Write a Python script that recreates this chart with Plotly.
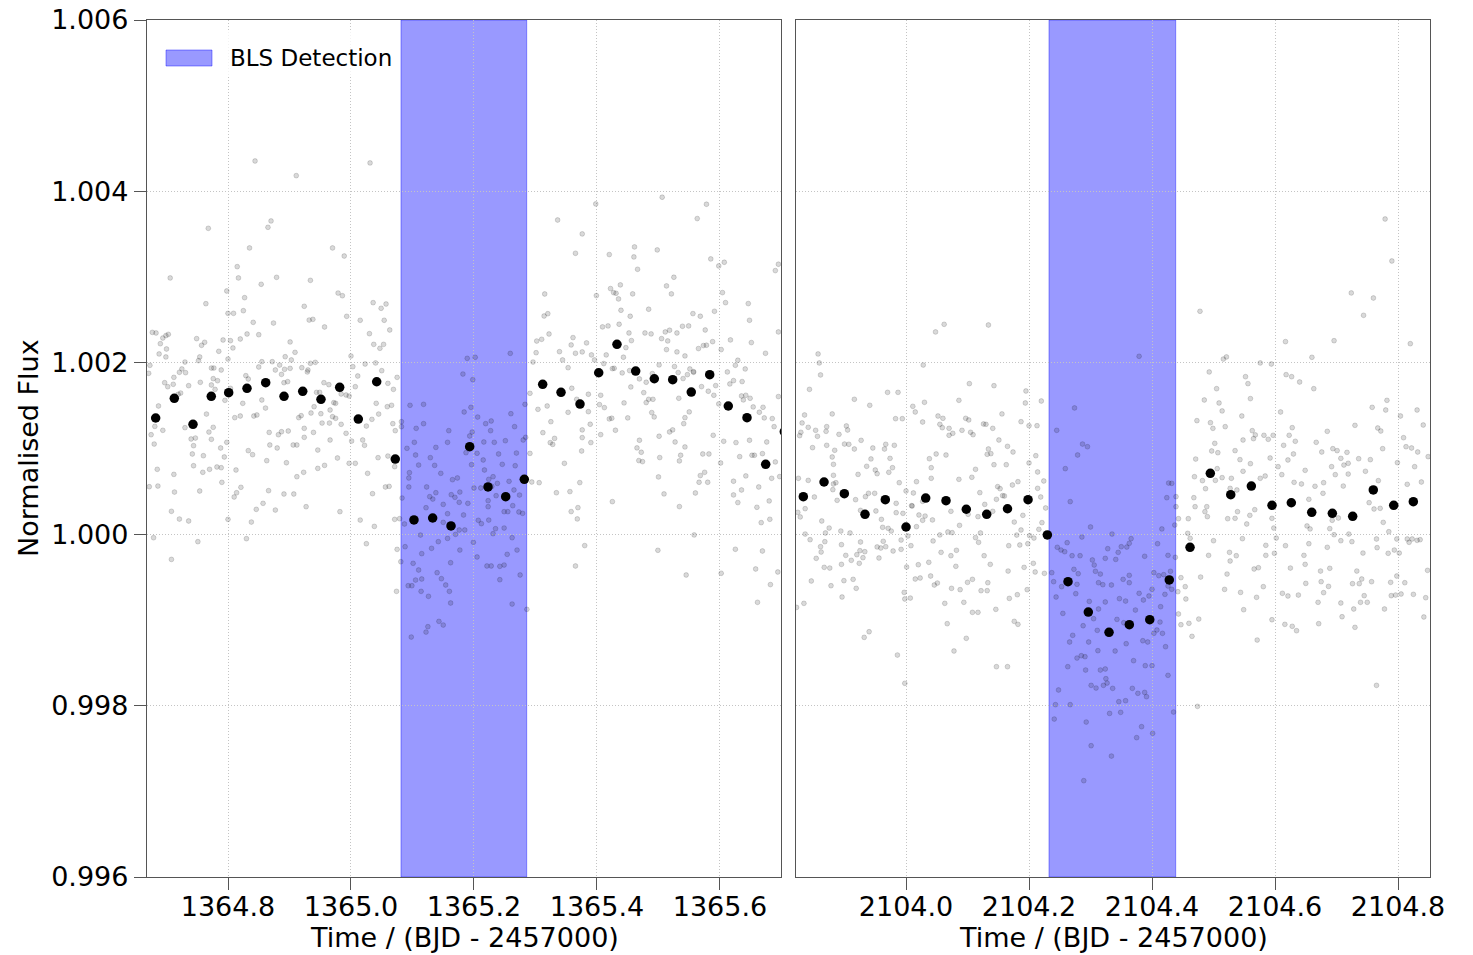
import plotly.graph_objects as go

# ---------------------------------------------------------------------------
# Data: two transit epochs (BJD - 2457000), normalised flux
# Unbinned points are stored as (time, flux offset in ppm from 1.0)
# ---------------------------------------------------------------------------

left_gray = [
    (1364.844,4355),(1364.911,4184),(1364.768,3569),(1364.865,3581),(1364.870,3655),(1364.835,3340),(1364.970,3340),
    (1364.989,3246),(1364.815,3122),(1364.817,2990),(1364.706,2990),(1364.879,2997),(1364.854,2916),(1364.934,2962),
    (1364.798,2838),(1364.764,2690),(1364.827,2760),(1364.979,2814),(1364.986,2783),(1364.800,2577),(1364.809,2577),
    (1364.825,2608),(1364.924,2659),(1364.932,2499),(1364.938,2507),(1364.993,2542),(1364.841,2472),(1364.874,2464),
    (1364.957,2418),(1365.015,2496),(1364.677,2355),(1364.683,2348),(1364.703,2332),(1364.699,2317),(1364.694,2289),
    (1364.690,2223),(1364.700,2161),(1364.688,2103),(1364.699,2068),(1364.749,2282),(1364.762,2239),(1364.757,2204),
    (1364.792,2266),(1364.804,2258),(1364.808,2173),(1364.820,2278),(1364.831,2336),(1364.850,2328),(1364.901,2243),
    (1364.909,2122),(1364.785,2134),(1364.800,2044),(1364.754,2068),(1364.752,2025),(1364.730,2009),(1364.725,1928),
    (1364.721,1889),(1364.731,1885),(1364.712,1830),(1364.697,1768),(1364.702,1721),(1364.711,1749),(1364.723,1647),
    (1364.719,1632),(1364.736,1733),(1364.755,1772),(1364.773,1939),(1364.777,1939),(1364.789,1916),(1364.776,1815),
    (1364.783,1791),(1364.779,1690),(1364.773,1741),(1364.673,1970),(1364.671,1877),(1364.795,1562),(1364.804,1702),
    (1364.833,1811),(1364.829,1850),(1364.850,1951),(1364.855,2013),(1364.872,2013),(1364.877,1916),(1364.884,1974),
    (1364.887,1865),(1364.893,2071),(1364.903,2033),(1364.892,1924),(1364.901,1935),(1364.891,1768),(1364.897,1780),
    (1364.920,1943),(1364.930,1916),(1364.934,1994),(1364.942,2005),(1364.929,1893),(1364.944,1655),(1364.949,1655),
    (1364.956,1768),(1364.964,1745),(1364.966,1449),(1364.972,1535),(1364.975,1527),(1364.984,1636),(1364.992,1624),
    (1364.997,1612),(1365.007,1721),(1365.011,1846),(1365.000,2079),(1365.003,1955),(1364.687,1496),(1364.681,1258),
    (1364.675,1161),(1364.680,1052),(1364.694,1212),(1364.685,757),(1364.672,554),(1364.686,562),(1364.712,698),
    (1364.713,492),(1364.708,267),(1364.721,177),(1364.736,154),(1364.751,-87),(1364.708,-294),(1364.679,-41),
    (1364.730,1243),(1364.740,1111),(1364.747,1122),(1364.744,1033),(1364.742,936),(1364.744,799),(1364.760,916),
    (1364.754,504),(1364.759,722),(1364.770,757),(1364.769,1192),(1364.765,1402),(1364.776,1247),(1364.773,1107),
    (1364.788,1006),(1364.794,901),(1364.782,784),(1364.789,776),(1364.790,605),(1364.798,1072),(1364.811,1360),
    (1364.820,1379),(1364.824,1527),(1364.842,1379),(1364.847,1391),(1364.855,1566),(1364.861,1472),(1364.867,1188),
    (1364.868,1041),(1364.863,858),(1364.880,1006),(1364.882,1161),(1364.887,1196),(1364.898,1204),(1364.895,834),
    (1364.906,1041),(1364.912,1041),(1364.915,1360),(1364.919,1383),(1364.924,1235),(1364.924,1130),(1364.939,1188),
    (1364.935,1414),(1364.940,1488),(1364.951,1406),(1364.953,1297),(1364.965,1297),(1364.970,1371),(1364.975,1352),
    (1364.984,1282),(1364.992,1177),(1365.001,1087),(1364.997,827),(1365.007,827),(1364.978,889),(1364.966,1099),
    (1364.946,982),(1364.923,722),(1364.912,671),(1364.946,768),(1364.957,803),(1364.927,321),(1364.907,469),
    (1364.891,469),(1364.877,282),(1364.866,508),(1364.857,360),(1364.846,290),(1364.838,142),(1364.830,-52),
    (1364.821,547),(1364.814,484),(1364.810,434),(1364.813,749),(1364.833,975),(1364.840,928),(1364.800,173),
    (1364.982,263),(1365.015,165),
    (1365.031,4332),(1365.336,3666),(1365.315,2803),(1365.320,2573),(1365.314,2546),(1365.036,2702),(1365.049,2636),
    (1365.057,2686),(1365.054,2496),(1365.063,2383),(1365.030,2340),(1365.037,2215),(1365.047,2169),(1365.053,2215),
    (1365.302,2254),(1365.310,2274),(1365.322,2336),(1365.301,2118),(1365.296,2009),(1365.339,2130),(1365.344,2033),
    (1365.353,1943),(1365.023,1986),(1365.040,1998),(1365.050,1908),(1365.060,1760),(1365.069,1690),(1365.075,1830),
    (1365.041,1527),(1365.045,1402),(1365.059,1488),(1365.066,1504),(1365.034,1340),(1365.025,1262),(1365.019,1099),
    (1365.022,1037),(1365.068,1290),(1365.072,1208),(1365.071,788),(1365.060,912),(1365.044,893),(1365.027,710),
    (1365.035,473),(1365.056,551),(1365.062,558),(1365.038,91),(1365.025,-111),(1365.071,173),(1365.079,181),
    (1365.291,1644),(1365.304,1457),(1365.312,1185),(1365.319,1496),(1365.325,1313),(1365.324,1068),(1365.328,1048),
    (1365.331,1118),(1365.347,827),(1365.353,1422),(1365.291,943),(1365.294,609),(1365.306,601),(1365.334,484),
    (1365.075,-177),(1365.081,-321),(1365.074,-667),(1365.286,-877),
    (1365.259,2110),(1365.189,2052),(1365.202,2064),(1365.182,1869),(1365.198,1803),(1365.096,1504),(1365.118,1515),
    (1365.082,1313),(1365.082,1255),(1365.106,1235),(1365.118,1290),(1365.159,1208),(1365.184,1426),(1365.195,1480),
    (1365.206,1367),(1365.219,1290),(1365.228,1321),(1365.227,1208),(1365.260,1406),(1365.266,1255),(1365.283,1515),
    (1365.284,1130),(1365.280,1099),(1365.193,1146),(1365.197,1192),(1365.187,951),(1365.190,1013),(1365.205,944),
    (1365.215,866),(1365.216,1076),(1365.233,1072),(1365.240,936),(1365.251,1091),(1365.269,947),(1365.267,799),
    (1365.257,617),(1365.246,815),(1365.238,593),(1365.231,671),(1365.223,391),(1365.217,749),(1365.211,539),
    (1365.200,539),(1365.196,811),(1365.091,1002),(1365.103,1072),(1365.105,924),(1365.110,807),(1365.129,893),
    (1365.136,803),(1365.138,1013),(1365.157,1072),(1365.146,710),(1365.165,636),(1365.173,656),(1365.123,551),
    (1365.095,718),(1365.094,656),(1365.094,551),(1365.083,422),(1365.087,119),(1365.113,-10),(1365.122,309),
    (1365.128,438),(1365.133,410),(1365.138,484),(1365.150,348),(1365.163,461),(1365.169,430),(1365.176,372),
    (1365.190,360),(1365.183,224),(1365.176,49),(1365.170,-2),(1365.166,95),(1365.150,138),(1365.157,-49),
    (1365.142,-87),(1365.131,-165),(1365.115,-227),(1365.101,-340),(1365.088,-146),(1365.110,-418),(1365.115,-523),
    (1365.105,-535),(1365.093,-601),(1365.099,-601),(1365.114,-667),(1365.126,-725),(1365.140,-449),(1365.147,-519),
    (1365.154,-593),(1365.160,-667),(1365.162,-333),(1365.162,-803),(1365.177,-185),(1365.205,-266),(1365.207,162),
    (1365.212,123),(1365.224,165),(1365.223,321),(1365.235,64),(1365.231,6),(1365.249,72),(1365.262,-41),
    (1365.270,-185),(1365.254,-235),(1365.249,-360),(1365.242,-375),(1365.221,-371),(1365.228,-371),(1365.242,-531),
    (1365.275,-476),(1365.262,-815),(1365.143,-1017),(1365.150,-1060),(1365.125,-1079),(1365.122,-1142),(1365.098,-1200),
    (1365.249,263),(1365.255,263),(1365.263,333),(1365.273,259),(1365.279,243),(1365.274,457),(1365.265,516),
    (1365.236,449),(1365.229,558),(1365.224,640),(1365.177,492),(1365.185,49),(1365.157,239),(1365.199,-95),
    (1365.506,3932),(1365.578,3850),(1365.563,3683),(1365.398,3854),(1365.376,3504),(1365.365,3278),(1365.420,3263),
    (1365.461,3352),(1365.460,3235),(1365.466,3091),(1365.498,3317),(1365.585,3212),(1365.598,3130),(1365.607,3173),
    (1365.399,2784),(1365.422,2866),(1365.427,2819),(1365.431,2811),(1365.438,2909),(1365.435,2745),(1365.439,2613),
    (1365.458,2804),(1365.454,2543),(1365.484,2625),(1365.513,2897),(1365.521,2804),(1365.525,2998),(1365.604,2819),
    (1365.609,2702),(1365.646,2691),(1365.648,2496),(1365.591,2601),(1365.556,2574),(1365.568,2543),(1365.576,2383),
    (1365.409,2419),(1365.418,2430),(1365.436,2450),(1365.452,2348),(1365.456,2259),(1365.478,2348),(1365.488,2337),
    (1365.505,2282),(1365.511,2360),(1365.518,2380),(1365.530,2348),(1365.539,2426),(1365.549,2430),(1365.515,2255),
    (1365.513,2154),(1365.530,2127),(1365.543,2080),(1365.551,1928),(1365.557,1889),(1365.565,2166),(1365.573,2201),
    (1365.578,2205),(1365.588,2247),(1365.602,2154),(1365.617,2267),(1365.629,2030),(1365.641,1928),(1365.651,2236),
    (1365.674,2111),(1365.695,2360),(1365.690,3076),(1365.695,3150),(1365.361,2294),(1365.358,2208),(1365.365,2111),
    (1365.376,2127),(1365.383,2232),(1365.391,2092),(1365.396,2033),(1365.415,2092),(1365.425,1932),(1365.443,2065),
    (1365.447,2177),(1365.411,1991),(1365.428,1936),(1365.441,1882),(1365.453,1909),(1365.455,1718),(1365.469,1812),
    (1365.480,1773),(1365.490,1874),(1365.501,1975),(1365.526,1956),(1365.532,1886),(1365.540,1816),(1365.547,1862),
    (1365.557,1897),(1365.570,1722),(1365.581,1668),(1365.590,1621),(1365.593,1734),(1365.598,1520),(1365.612,1893),
    (1365.616,1753),(1365.622,1792),(1365.625,1971),(1365.636,1781),(1365.642,1621),(1365.649,1586),(1365.654,1485),
    (1365.664,1423),(1365.670,1481),(1365.672,1357),(1365.685,1349),(1365.688,1255),(1365.695,1606),(1365.359,1703),
    (1365.367,1574),(1365.386,1633),(1365.386,1430),(1365.389,1283),(1365.390,1069),(1365.376,1127),(1365.376,1217),
    (1365.375,971),(1365.406,1621),(1365.404,1512),(1365.412,1477),(1365.406,1162),(1365.420,1345),(1365.424,1353),
    (1365.430,1213),(1365.450,1357),(1365.444,1532),(1365.476,1652),(1365.480,1536),(1365.491,1574),(1365.484,1574),
    (1365.489,1419),(1365.493,1368),(1365.501,1143),(1365.518,1193),(1365.523,1217),(1365.533,1586),(1365.543,1360),
    (1365.550,1427),(1365.541,1290),(1365.527,1076),(1365.543,1018),(1365.536,921),(1365.534,855),(1365.469,1096),
    (1365.465,1007),(1365.472,956),(1365.468,859),(1365.474,847),(1365.502,894),(1365.500,668),(1365.509,470),
    (1365.534,322),(1365.560,481),(1365.568,684),(1365.575,722),(1365.580,606),(1365.566,606),(1365.572,936),
    (1365.582,936),(1365.589,1154),(1365.606,1084),(1365.601,831),(1365.622,618),(1365.626,1069),(1365.635,1613),
    (1365.638,1567),(1365.632,905),(1365.642,680),(1365.635,516),(1365.648,1096),(1365.652,921),(1365.656,921),
    (1365.663,551),(1365.669,940),(1365.676,1076),(1365.684,652),(1365.690,843),(1365.697,672),(1365.622,458),
    (1365.629,369),(1365.660,314),(1365.667,135),(1365.681,174),(1365.680,388),(1365.356,497),(1365.358,264),
    (1365.369,310),(1365.368,178),(1365.372,602),(1365.425,380),(1365.380,-133),(1365.365,-371),(1365.499,-188),
    (1365.558,-9),(1365.545,-476),(1365.602,-456),(1365.625,-176),(1365.669,-196),(1365.658,-406),(1365.682,-588),
    (1365.694,-441),(1365.661,-795),
]

right_gray = [
    (2103.857,2103),(2103.859,1998),(2103.861,1858),(2104.062,2449),(2104.048,2360),(2104.134,2441),(2104.028,1974),
    (2104.103,1757),(2104.143,1733),(2103.843,1690),(2103.916,1574),(2103.970,1655),(2103.987,1655),(2103.941,1504),
    (2104.011,1492),(2104.015,1426),(2103.983,1348),(2103.994,1348),(2104.027,1309),(2104.030,1539),(2104.086,1562),
    (2104.052,1379),(2104.060,1352),(2104.055,1282),(2104.059,1243),(2104.070,1235),(2104.070,1154),(2104.076,1177),
    (2104.091,1212),(2104.097,1352),(2104.102,1333),(2104.105,1189),(2104.109,1161),(2104.126,1286),(2104.130,1282),
    (2104.141,1235),(2104.156,1403),(2103.835,1391),(2103.831,1298),(2103.841,1247),(2103.853,1212),(2103.856,1142),
    (2103.829,1189),(2103.827,1150),(2103.848,1010),(2103.871,1255),(2103.870,1200),(2103.880,1403),(2103.891,1165),
    (2103.903,1263),(2103.905,1216),(2103.900,1052),(2103.907,1049),(2103.916,994),(2103.884,979),(2103.871,1037),
    (2103.882,815),(2103.882,687),(2103.882,586),(2103.881,520),(2103.886,601),(2103.888,395),(2103.880,901),
    (2103.927,1095),(2103.946,1006),(2103.943,878),(2103.936,792),(2103.950,749),(2103.953,706),(2103.922,698),
    (2103.965,994),(2103.967,1049),(2103.981,1037),(2103.974,885),(2103.978,776),(2103.972,722),(2103.989,601),
    (2104.000,504),(2104.010,329),(2104.017,613),(2104.038,881),(2104.041,776),(2104.041,652),(2104.049,936),
    (2104.065,924),(2104.086,640),(2104.107,664),(2104.113,757),(2104.120,485),(2104.132,932),(2104.134,994),
    (2104.138,940),(2104.143,811),(2104.151,1099),(2104.165,1025),(2104.163,811),(2104.149,555),(2104.153,531),
    (2104.160,446),(2103.825,652),(2103.841,628),(2103.851,434),(2103.836,298),(2103.824,255),(2103.828,201),
    (2103.863,154),(2103.869,14),(2103.875,72),(2103.894,37),(2103.909,14),(2103.918,403),(2103.926,278),
    (2103.949,477),(2103.951,271),(2103.939,477),(2103.934,438),(2103.960,173),(2103.962,80),(2103.971,68),
    (2103.976,37),(2103.984,251),(2103.984,360),(2103.995,243),(2104.009,333),(2104.012,481),(2104.027,162),
    (2104.021,224),(2104.031,212),(2104.043,166),(2104.017,88),(2104.027,383),(2104.073,267),(2104.087,103),
    (2104.101,232),(2104.117,205),(2104.121,14),(2104.128,348),(2104.141,267),(2104.147,407),(2104.157,450),
    (2104.068,26),(2104.075,18),(2104.055,-9),(2104.113,-40),(2104.118,-95),(2103.836,2),(2103.844,-64),
    (2103.854,-282),(2103.861,-146),(2103.868,-87),(2103.867,-387),(2103.876,-395),(2103.862,-208),(2103.895,-122),
    (2103.902,-247),(2103.895,-352),(2103.911,-305),(2103.920,-239),(2103.924,-340),(2103.930,-274),(2103.925,-192),
    (2103.933,-204),(2103.926,-91),(2103.953,-149),(2103.956,-278),(2103.959,-161),(2103.963,-83),(2103.967,-146),
    (2103.979,-196),(2103.992,-177),(2103.992,-68),(2104.003,-21),(2104.008,-134),(2104.001,-383),(2103.997,-679),
    (2103.998,-756),(2104.007,-745),(2104.015,-523),(2104.023,-511),(2104.020,-356),(2104.037,-328),(2104.040,-488),
    (2104.044,-79),(2104.057,-212),(2104.073,-251),(2104.082,-188),(2104.081,-375),(2104.046,-593),(2104.051,-570),
    (2104.074,-632),(2104.088,-647),(2104.094,-795),(2104.098,-1215),(2104.108,-527),(2104.100,-562),(2104.122,-659),
    (2104.132,-659),(2104.133,-566),(2104.137,-352),(2104.127,-251),(2104.146,-877),(2104.108,-912),(2104.117,-912),
    (2104.067,-1044),(2104.063,-807),(2104.078,-1363),(2104.166,-430),(2104.167,-134),(2104.168,-749),(2103.834,-807),
    (2103.822,-854),(2103.846,-546),(2103.878,-601),(2103.896,-733),(2103.899,-542),(2103.914,-527),(2103.919,-632),
    (2103.940,-1138),(2103.932,-1204),(2103.986,-1410),(2103.998,-1740),(2104.147,-1546),(2104.165,-1546),
    (2104.195,1671),(2104.194,1531),(2104.220,1554),(2104.187,1313),(2104.200,1266),(2104.213,1266),(2104.174,959),
    (2104.211,916),(2104.200,831),(2104.214,726),(2104.224,621),(2104.173,574),(2104.182,613),(2104.214,535),
    (2104.219,434),(2104.227,306),(2104.176,142),(2104.187,49),(2104.190,220),(2104.221,135),(2104.216,57),
    (2104.208,-45),(2104.201,-17),(2104.180,-10),(2104.185,-126),(2104.198,-111),(2104.192,-387),(2104.207,-340),
    (2104.210,-441),(2104.225,-457),(2104.181,-706),(2104.197,-647),(2104.176,-1017),(2104.182,-1052),(2104.478,2601),
    (2104.493,1893),(2104.485,1566),(2104.473,1325),(2104.495,1301),(2104.499,1235),(2104.497,971),(2104.471,877),
    (2104.469,671),(2104.482,625),(2104.487,531),(2104.503,628),(2104.468,426),(2104.486,263),(2104.490,205),
    (2104.470,321),(2104.489,321),(2104.443,181),(2104.459,181),(2104.458,10),(2104.462,-48),(2104.500,-76),
    (2104.492,-247),(2104.479,-500),(2104.447,-507),(2104.442,-671),(2104.454,-612),(2104.455,-756),(2104.443,-931),
    (2104.447,-1056),(2104.460,-1040),(2104.465,-1192),(2104.476,-990),(2104.474,-2009),(2104.439,321),(2104.439,438),
    (2104.432,593),(2104.438,-270),(2104.435,-2075),
    (2104.379,2076),(2104.274,1473),(2104.245,1212),(2104.287,1052),(2104.295,1021),(2104.279,924),(2104.259,765),
    (2104.267,380),(2104.427,597),(2104.424,426),(2104.437,107),(2104.416,61),(2104.426,-247),(2104.409,-111),
    (2104.300,84),(2104.335,2),(2104.366,-52),(2104.363,-107),(2104.359,-150),(2104.350,-146),(2104.345,-212),
    (2104.328,-169),(2104.324,-282),(2104.303,-301),(2104.306,-360),(2104.308,-433),(2104.316,-465),(2104.283,-251),
    (2104.270,-251),(2104.262,-99),(2104.286,-33),(2104.246,-153),(2104.252,-185),(2104.258,-204),(2104.237,-449),
    (2104.240,-554),(2104.253,-612),(2104.276,-694),(2104.273,-410),(2104.280,-461),(2104.244,-733),(2104.255,-924),
    (2104.278,-585),(2104.313,-566),(2104.320,-589),(2104.334,-593),(2104.341,-294),(2104.353,-527),(2104.363,-566),
    (2104.363,-480),(2104.388,-258),(2104.403,-449),(2104.411,-484),(2104.419,-472),(2104.426,-605),(2104.430,-433),
    (2104.432,-643),(2104.421,-702),(2104.400,-643),(2104.395,-721),(2104.379,-690),(2104.386,-768),(2104.373,-885),
    (2104.357,-780),(2104.347,-752),(2104.343,-994),(2104.354,-1033),(2104.324,-791),(2104.313,-873),(2104.298,-784),
    (2104.305,-986),(2104.311,-1122),(2104.288,-1068),(2104.271,-1180),(2104.266,-1258),(2104.297,-1258),(2104.278,-1445),
    (2104.285,-1418),(2104.291,-1429),(2104.263,-1546),(2104.292,-1585),(2104.316,-1585),(2104.324,-1573),(2104.340,-1363),
    (2104.358,-1278),(2104.370,-1476),(2104.385,-1243),(2104.393,-1258),(2104.389,-1534),(2104.400,-1534),(2104.403,-1157),
    (2104.413,-1025),(2104.417,-1157),(2104.422,-1313),(2104.426,-1647),(2104.414,-846),(2104.408,-1118),(2104.248,-1818),
    (2104.243,-1989),(2104.267,-1989),(2104.241,-2157),(2104.293,-2192),(2104.301,-2468),(2104.289,-2876),(2104.334,-2589),
    (2104.331,-2091),(2104.349,-2079),(2104.357,-1943),(2104.346,-1954),(2104.368,-1799),(2104.377,-1857),(2104.388,-1846),
    (2104.391,-1896),(2104.383,-2246),(2104.375,-2374),(2104.401,-2324),(2104.309,-1795),(2104.301,-1764),(2104.321,-1764),
    (2104.327,-1737),(2104.336,-1799),(2104.312,-1359),(2104.325,-1686),
    (2104.779,3678),(2104.790,3188),(2104.724,2815),(2104.760,2756),(2104.744,2554),(2104.617,2247),(2104.696,2258),
    (2104.820,2223),(2104.660,2064),(2104.516,2044),(2104.521,2068),(2104.576,1998),(2104.594,1986),(2104.618,1862),
    (2104.627,1838),(2104.640,1776),(2104.663,1698),(2104.552,1838),(2104.556,1757),(2104.560,1582),(2104.505,1698),
    (2104.509,1531),(2104.514,1438),(2104.546,1379),(2104.519,1255),(2104.609,1426),(2104.758,1480),(2104.782,1562),
    (2104.780,1449),(2104.804,1379),(2104.831,1449),(2104.841,1274),(2104.849,905),(2104.548,1099),(2104.563,1208),
    (2104.568,1158),(2104.582,1154),(2104.589,1107),(2104.597,1154),(2104.623,1154),(2104.628,1243),(2104.633,1084),
    (2104.614,1037),(2104.630,936),(2104.621,866),(2104.592,889),(2104.576,652),(2104.584,679),(2104.605,788),
    (2104.611,695),(2104.631,605),(2104.643,586),(2104.649,745),(2104.655,407),(2104.665,559),(2104.679,601),
    (2104.678,477),(2104.667,1072),(2104.685,1200),(2104.676,959),(2104.694,998),(2104.701,975),(2104.707,885),
    (2104.712,807),(2104.717,955),(2104.719,827),(2104.692,788),(2104.698,695),(2104.719,702),(2104.711,562),
    (2104.730,1270),(2104.736,881),(2104.747,734),(2104.755,870),(2104.767,1239),(2104.772,1204),(2104.775,998),
    (2104.768,625),(2104.753,368),(2104.761,294),(2104.771,302),(2104.776,138),(2104.799,835),(2104.809,1126),
    (2104.813,1021),(2104.822,1006),(2104.827,788),(2104.832,959),(2104.838,609),(2104.815,582),(2104.502,1060),
    (2104.507,951),(2104.506,765),(2104.514,660),(2104.529,652),(2104.527,535),(2104.535,975),(2104.543,870),
    (2104.548,734),(2104.560,823),(2104.565,1115),(2104.559,220),(2104.567,286),(2104.538,516),(2104.539,263),
    (2104.554,119),(2104.535,185),(2104.523,181),(2104.595,185),(2104.598,72),(2104.602,-45),(2104.599,-223),
    (2104.585,-130),(2104.585,-247),(2104.573,-391),(2104.566,-406),(2104.522,-465),(2104.527,-313),(2104.526,-212),
    (2104.537,-251),(2104.547,-52),(2104.581,-612),(2104.544,-679),(2104.518,-644),(2104.549,-881),(2104.570,-737),
    (2104.595,-998),(2104.571,-1235),(2104.617,-134),(2104.625,-395),(2104.612,-690),(2104.621,-721),(2104.638,-710),
    (2104.616,-1052),(2104.628,-1075),(2104.635,-1126),(2104.649,-352),(2104.652,96),(2104.657,61),(2104.655,-111),
    (2104.647,-247),(2104.650,-574),(2104.670,-795),(2104.674,-430),(2104.675,-554),(2104.679,-682),(2104.687,-609),
    (2104.689,-398),(2104.685,-153),(2104.689,65),(2104.696,-6),(2104.693,162),(2104.703,189),(2104.707,-76),
    (2104.707,-803),(2104.709,-963),(2104.671,-1044),(2104.720,2),(2104.725,-87),(2104.726,-577),(2104.733,-430),
    (2104.741,-523),(2104.737,-577),(2104.739,-795),(2104.728,-873),(2104.730,-1087),(2104.745,-717),(2104.750,-795),
    (2104.743,-220),(2104.757,-554),(2104.765,-56),(2104.766,-157),(2104.784,-223),(2104.785,29),(2104.788,-562),
    (2104.789,-717),(2104.778,-873),(2104.794,-185),(2104.798,-56),(2104.798,-488),(2104.802,-220),(2104.805,-698),
    (2104.811,-566),(2104.815,-56),(2104.818,-95),(2104.823,-56),(2104.825,-702),(2104.831,-72),(2104.836,-64),
    (2104.845,-741),(2104.848,-422),(2104.842,-966),(2104.765,-1764),(2104.796,-710),
]

# Binned light curve
left_bin_time = [
    1364.6824, 1364.7127, 1364.7431, 1364.7728, 1364.8011, 1364.8309, 1364.8613, 1364.8911, 1364.9215,
    1364.9512, 1364.9816, 1365.0119, 1365.0418, 1365.0720, 1365.1024, 1365.1328, 1365.1626, 1365.1930,
    1365.2228, 1365.2515, 1365.2818, 1365.3117, 1365.3415, 1365.3724, 1365.4028, 1365.4325, 1365.4629,
    1365.4932, 1365.5231, 1365.5533, 1365.5833, 1365.6135, 1365.6439, 1365.6743, 1365.7046,
]
left_bin_flux = [
    1.001356, 1.001586, 1.001282, 1.001609, 1.001651, 1.001702, 1.001768, 1.001609, 1.001667,
    1.001574, 1.001714, 1.001344, 1.001779, 1.000877, 1.000166, 1.000189, 1.000096, 1.001021,
    1.000551, 1.000438, 1.000641, 1.001749, 1.001656, 1.001519, 1.001884, 1.002216, 1.001904,
    1.001814, 1.001803, 1.001659, 1.001861, 1.001496, 1.001359, 1.000816, 1.001196,
]
right_bin_time = [
    2103.8330, 2103.8667, 2103.8997, 2103.9333, 2103.9663, 2104.0000, 2104.0320, 2104.0650, 2104.0980,
    2104.1312, 2104.1650, 2104.1984, 2104.2298, 2104.2634, 2104.2964, 2104.3301, 2104.3631, 2104.3963,
    2104.4281, 2104.4618, 2104.4948, 2104.5280, 2104.5615, 2104.5951, 2104.6265, 2104.6597, 2104.6932,
    2104.7263, 2104.7598, 2104.7930, 2104.8249,
]
right_bin_flux = [
    1.000438, 1.000609, 1.000473, 1.000232, 1.000403, 1.000084, 1.000422, 1.000391, 1.000291,
    1.000232, 1.000297, 1.000403, 0.999991, 0.999446, 0.999092, 0.998855, 0.998944, 0.999002,
    0.999466, 0.999847, 1.000711, 1.000461, 1.000562, 1.000337, 1.000367, 1.000255, 1.000244,
    1.000209, 1.000516, 1.000337, 1.000379,
]

# BLS transit windows (start, end)
left_window = [1365.0813, 1365.2857]
right_window = [2104.2325, 2104.4385]

# Axis settings
left_xrange = [1364.6683, 1365.6992]
right_xrange = [2103.8211, 2104.8520]
flux_range = [0.996, 1.006]
x_title = "Time / (BJD - 2457000)"
y_title = "Normalised Flux"
legend_label = "BLS Detection"

# ---------------------------------------------------------------------------
W, H = 1473, 955
FONT = "DejaVu Sans"
FRAME = "#555555"
GRID = "#c4c4c4"
BLUE_FILL = "rgba(0,0,255,0.4)"

dom_left = [147 / W, 781 / W]
dom_right = [796 / W, 1430 / W]
dom_y = [1 - 877 / H, 1 - 20 / H]


def unpack(pairs):
    t = [p[0] for p in pairs]
    f = [1.0 + p[1] * 1e-6 for p in pairs]
    return t, f


gray_marker = dict(size=4.8, color="rgba(0,0,0,0.15)",
                   line=dict(width=1, color="rgba(0,0,0,0.15)"))
bin_marker = dict(size=9.5, color="black")

fig = go.Figure()
for pairs, bt, bf, xa, ya in [
    (left_gray, left_bin_time, left_bin_flux, "x", "y"),
    (right_gray, right_bin_time, right_bin_flux, "x2", "y2"),
]:
    t, f = unpack(pairs)
    fig.add_trace(go.Scatter(x=t, y=f, mode="markers", marker=gray_marker,
                             xaxis=xa, yaxis=ya, showlegend=False, hoverinfo="skip"))
    fig.add_trace(go.Scatter(x=bt, y=bf, mode="markers", marker=bin_marker,
                             xaxis=xa, yaxis=ya, showlegend=False))

tick_font = dict(family=FONT, size=27, color="black")
common_x = dict(
    showline=True, linecolor=FRAME, linewidth=1.3, mirror=True,
    ticks="outside", ticklen=12, tickwidth=1.3, tickcolor=FRAME,
    showgrid=True, gridcolor=GRID, griddash="1px,2px", gridwidth=1,
    zeroline=False, tickfont=tick_font, tickmode="linear", tick0=0, dtick=0.2,
    tickformat=".1f", automargin=False, fixedrange=True, ticklabelstandoff=-7,
)
common_y = dict(
    showline=True, linecolor=FRAME, linewidth=1.3, mirror=True,
    showgrid=True, gridcolor=GRID, griddash="1px,2px", gridwidth=1,
    zeroline=False, range=flux_range, tickmode="linear", tick0=1.0, dtick=0.002,
    automargin=False, domain=dom_y,
)

fig.update_layout(
    width=W, height=H, template="none",
    margin=dict(l=0, r=0, t=0, b=0, pad=0),
    paper_bgcolor="white", plot_bgcolor="white",
    showlegend=False,
    xaxis=dict(common_x, domain=dom_left, range=left_xrange, anchor="y"),
    xaxis2=dict(common_x, domain=dom_right, range=right_xrange, anchor="y2"),
    yaxis=dict(common_y, anchor="x", ticks="outside", ticklen=12, tickwidth=1.3,
               tickcolor=FRAME, tickfont=tick_font, tickformat=".3f"),
    yaxis2=dict(common_y, anchor="x2", ticks="", showticklabels=False),
)

# Transit windows (beneath the grid, like the original axvspan)
for xr, ya, win in [("x", "y", left_window), ("x2", "y2", right_window)]:
    fig.add_shape(type="rect", xref=xr, yref=ya,
                  x0=win[0], x1=win[1], y0=flux_range[0], y1=flux_range[1],
                  fillcolor=BLUE_FILL, line=dict(color=BLUE_FILL, width=1),
                  layer="below")

# Legend (upper left of first panel)
fig.add_shape(type="rect", xref="paper", yref="paper",
              x0=156 / W, x1=398 / W, y0=1 - 76 / H, y1=1 - 31 / H,
              fillcolor="rgba(255,255,255,0.8)", line=dict(width=0), layer="above")
fig.add_shape(type="rect", xref="paper", yref="paper",
              x0=166 / W, x1=212 / W, y0=1 - 66 / H, y1=1 - 50 / H,
              fillcolor=BLUE_FILL, line=dict(color=BLUE_FILL, width=1), layer="above")
fig.add_annotation(text=legend_label, xref="paper", yref="paper",
                   x=229 / W, y=1 - 58 / H, xanchor="left", yanchor="middle",
                   showarrow=False, borderpad=0,
                   font=dict(family=FONT, size=23, color="black"))

# Axis titles
for xc in [(147 + 781) / 2 / W, (796 + 1430) / 2 / W]:
    fig.add_annotation(text=x_title, xref="paper", yref="paper",
                       x=xc, y=1 - 937 / H, xanchor="center", yanchor="middle",
                       showarrow=False, borderpad=0,
                       font=dict(family=FONT, size=27, color="black"))
fig.add_annotation(text=y_title, xref="paper", yref="paper",
                   x=28 / W, y=1 - 448 / H, xanchor="center", yanchor="middle",
                   textangle=-90, showarrow=False, borderpad=0,
                   font=dict(family=FONT, size=27, color="black"))

fig.write_html("out.html")
